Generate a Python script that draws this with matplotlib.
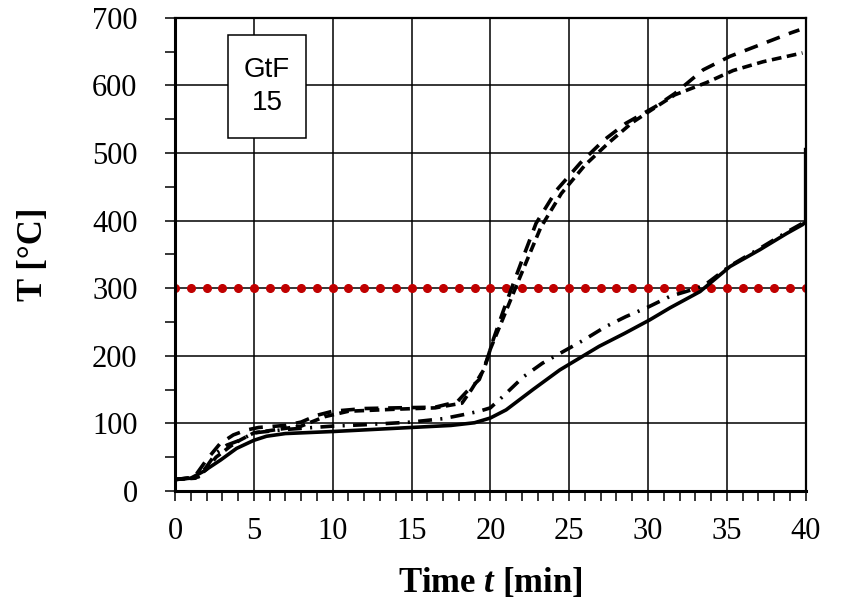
import matplotlib
matplotlib.use("Agg")
import matplotlib.pyplot as plt
from matplotlib.patches import Rectangle
from matplotlib.ticker import MultipleLocator

plt.rcParams["lines.scale_dashes"] = False
plt.rcParams["mathtext.fontset"] = "custom"
plt.rcParams["mathtext.it"] = "Liberation Serif:italic:bold"
plt.rcParams["mathtext.rm"] = "Liberation Serif:bold"

# Time axis ticks
x_ticks = [0, 5, 10, 15, 20, 25, 30, 35, 40]
y_ticks = [0, 100, 200, 300, 400, 500, 600, 700]

# Solid curve
t_solid = [0, 1.0, 1.8, 2.9, 3.9, 5.0, 5.8, 7, 10, 12.5, 15, 17.5, 19, 20, 21,
           22.7, 24.4, 26.9, 28.5, 30.1, 31.4, 33.3, 35.2, 37.1, 38.8, 39.8, 40.0, 40.0]
T_solid = [17, 19, 29, 46, 63, 75, 81, 85, 88, 91, 94, 97, 101, 108, 120,
           150, 179, 214, 233, 253, 271, 295, 332, 357, 381, 394, 398, 505]

# Long-dash curve
t_long = [0, 1.2, 2.0, 2.85, 3.7, 4.5, 5.3, 7, 8, 9, 10, 12, 14, 16.5, 17.9, 18.5,
          19.3, 19.8, 20.2, 20.8, 21.3, 22.1, 22.9, 24.2, 25.7, 27.2, 28.6, 30.5,
          31.7, 33.5, 35.2, 37.1, 39.1, 39.6]
T_long = [17, 20, 46, 70, 83, 90, 94, 97, 102, 112, 118, 122, 123, 124, 132, 147,
          165, 195, 225, 265, 297, 347, 396, 445, 485, 519, 544, 569,
          588, 623, 643, 660, 678, 682]

# Short-dash curve
t_short = [0, 1.3, 2.0, 2.6, 3.5, 4.1, 5.0, 6.5, 8, 9.5, 11, 14, 16.5, 18.2, 18.8,
           19.6, 20.0, 20.8, 21.5, 22.3, 23.2, 24.5, 26, 27.5, 29, 30.5, 31.7,
           33.7, 35.4, 37.3, 39.8]
T_short = [17, 19, 32, 50, 66, 75, 86, 91, 96, 110, 118, 121, 123, 130, 150,
           180, 210, 255, 295, 340, 390, 440, 482, 515, 545, 568, 586,
           604, 622, 635, 648]

# Dash-dot curve
t_dd = [0, 1.5, 2.0, 2.6, 3.3, 4.1, 5.0, 7, 10, 12, 15, 17, 18.3, 19.3, 20, 20.8,
        22.1, 23.3, 24.6, 25.9, 27.3, 28.6, 30, 31.4, 32.4, 33.5, 35.2, 37.1, 38.8, 39.8]
T_dd = [17, 21, 36, 56, 68, 75, 86, 91, 96, 98, 102, 107, 113, 118, 123, 140,
        169, 189, 206, 223, 243, 258, 272, 288, 295, 303, 333, 359, 383, 396]

# Critical temperature line
t_crit = list(range(0, 41))
T_crit = [300] * len(t_crit)

serif = "Liberation Serif"
sans = "Liberation Sans"

fig = plt.figure(figsize=(8.58, 6.13), dpi=100)
ax = fig.add_axes([0.204, 0.199, 0.735, 0.772])

ax.set_xlim(0, 40)
ax.set_ylim(0, 700)
ax.set_xticks(x_ticks)
ax.set_yticks(y_ticks)
ax.xaxis.set_minor_locator(MultipleLocator(1))
ax.yaxis.set_minor_locator(MultipleLocator(50))
ax.grid(True, which="major", color="black", linewidth=1.1, zorder=0)
ax.set_axisbelow(True)

ax.tick_params(axis="both", which="both", direction="out", length=7, width=1.1,
               color="black")
ax.tick_params(axis="x", which="major", pad=12)
ax.tick_params(axis="y", which="major", pad=20)
for lab in ax.get_xticklabels() + ax.get_yticklabels():
    lab.set_fontfamily(serif)
    lab.set_fontsize(22)

for side in ["left", "bottom"]:
    ax.spines[side].set_linewidth(2.2)
for side in ["top", "right"]:
    ax.spines[side].set_linewidth(1.6)

ax.plot(t_crit, T_crit, linestyle="none", marker="o", markersize=5.5,
        color="#C00000", zorder=2)

ax.plot(t_solid, T_solid, color="black", linewidth=2.6, zorder=4)
ax.plot(t_long, T_long, color="black", linewidth=2.6, zorder=4,
        linestyle=(0, (10, 7)))
ax.plot(t_short, T_short, color="black", linewidth=2.6, zorder=4,
        linestyle=(0, (7, 4)))
ax.plot(t_dd, T_dd, color="black", linewidth=2.6, zorder=4,
        linestyle=(0, (10, 6, 1.5, 6)))

ax.add_patch(Rectangle((3.36, 522), 4.94, 153, facecolor="white",
                       edgecolor="black", linewidth=1.1, zorder=5))
ax.text(5.83, 598, "GtF\n15", fontfamily=sans, fontsize=20, ha="center",
        va="center", linespacing=1.35, zorder=6)

ax.set_xlabel(r"Time $t$ [min]", fontfamily=serif, fontsize=25,
              fontweight="bold", labelpad=14)
ax.set_ylabel("T [°C]", fontfamily=serif, fontsize=25, fontweight="bold",
              labelpad=30)

fig.savefig("out.png", dpi=100)
